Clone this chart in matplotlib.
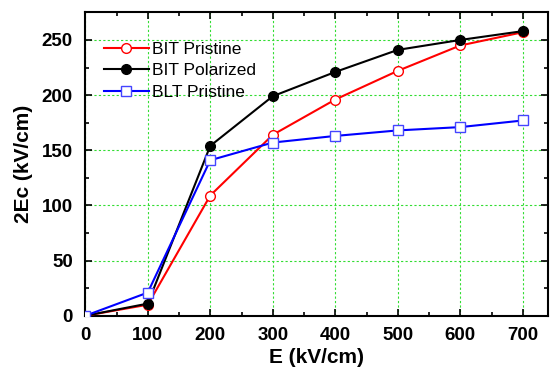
import matplotlib
matplotlib.use('Agg')
import matplotlib.pyplot as plt
from matplotlib.ticker import MultipleLocator

plt.rcParams['font.family'] = ['Liberation Sans', 'DejaVu Sans']

E = [0, 100, 200, 300, 400, 500, 600, 700]
bit_pristine = [0, 10, 109, 164, 196, 222, 245, 257]
bit_polarized = [0, 11, 154, 199, 221, 241, 250, 258]
blt_pristine = [0, 21, 141, 157, 163, 168, 171, 177]

fig = plt.figure(figsize=(5.5, 3.75), dpi=100)
ax = fig.add_axes([0.155, 0.158, 0.841, 0.809])

ax.plot(E, bit_pristine, '-o', color='red', mfc='white', mec='red', ms=7, lw=1.5,
        label='BIT Pristine', zorder=3)
ax.plot(E, bit_polarized, '-o', color='black', mfc='black', ms=7, lw=1.5,
        label='BIT Polarized', zorder=3)
ax.plot(E, blt_pristine, '-s', color='blue', mfc='white', mec='#4444ff', ms=7, lw=1.5,
        label='BLT Pristine', zorder=3)

ax.set_xlim(0, 740)
ax.set_ylim(0, 275)
ax.xaxis.set_major_locator(MultipleLocator(100))
ax.xaxis.set_minor_locator(MultipleLocator(50))
ax.yaxis.set_major_locator(MultipleLocator(50))
ax.yaxis.set_minor_locator(MultipleLocator(25))
ax.grid(True, which='major', color='#33dd33', ls=(0, (2, 2)), lw=0.8)
ax.tick_params(which='both', direction='in', top=True, right=True, width=1.2)
ax.tick_params(which='major', length=5)
ax.tick_params(which='minor', length=3)
ax.tick_params(axis='both', labelsize=13.5)
ax.tick_params(axis='x', pad=8)
ax.tick_params(axis='y', pad=9)
for lbl in ax.get_xticklabels() + ax.get_yticklabels():
    lbl.set_fontweight('bold')
for s in ax.spines.values():
    s.set_linewidth(1.5)

ax.set_xlabel('E (kV/cm)', fontsize=15, fontweight='bold', labelpad=3)
ax.set_ylabel('2Ec (kV/cm)', fontsize=15, fontweight='bold', labelpad=6)

ax.legend(loc='upper left', frameon=False, fontsize=12.5, handlelength=2.6,
          handletextpad=0.2, labelspacing=0.35, borderaxespad=0.0,
          bbox_to_anchor=(0.025, 0.925))

fig.savefig('out.png', dpi=100)
